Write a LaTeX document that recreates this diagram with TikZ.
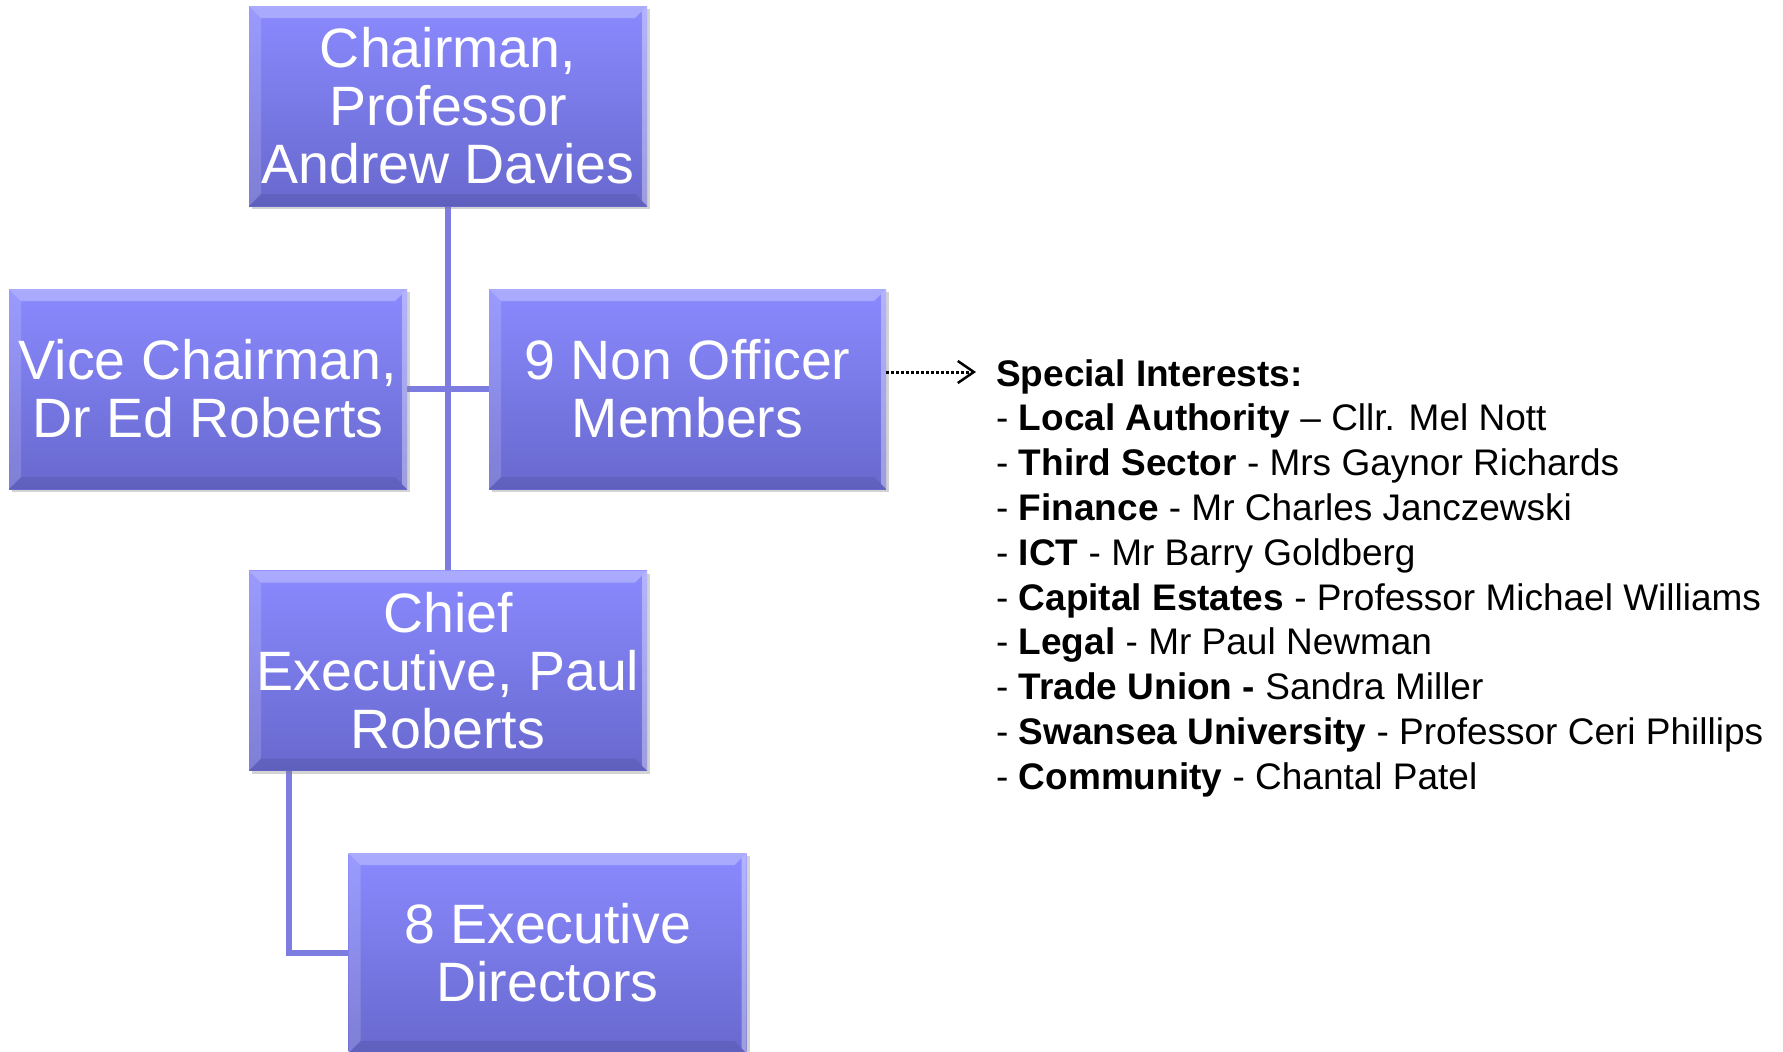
\documentclass[tikz,border=0pt]{standalone}
\usepackage{fontspec}
\setmainfont{Liberation Sans}
\usetikzlibrary{shadows,arrows.meta}
\definecolor{boxtop}{RGB}{138,138,255}
\definecolor{boxbot}{RGB}{104,104,206}
\definecolor{connc}{RGB}{125,125,225}
\tikzset{
  orgbox/.style={rectangle, minimum width=398pt, minimum height=200pt, inner sep=0pt,
    top color=boxtop, bottom color=boxbot, draw=none, text=white, align=center,
    font=\fontsize{55.5pt}{58pt}\selectfont,
    drop shadow={shadow xshift=3pt, shadow yshift=-3pt, opacity=0.35},
    path picture={
      \fill[white,opacity=0.28] (path picture bounding box.north west) -- (path picture bounding box.north east)
        -- ([xshift=-12pt,yshift=-12pt]path picture bounding box.north east) -- ([xshift=12pt,yshift=-12pt]path picture bounding box.north west) -- cycle;
      \fill[white,opacity=0.15] (path picture bounding box.north west) -- (path picture bounding box.south west)
        -- ([xshift=12pt,yshift=12pt]path picture bounding box.south west) -- ([xshift=12pt,yshift=-12pt]path picture bounding box.north west) -- cycle;
      \fill[black,opacity=0.08] (path picture bounding box.south west) -- (path picture bounding box.south east)
        -- ([xshift=-12pt,yshift=12pt]path picture bounding box.south east) -- ([xshift=12pt,yshift=12pt]path picture bounding box.south west) -- cycle;
      \fill[white,opacity=0.35] (path picture bounding box.north east) -- (path picture bounding box.south east)
        -- ([xshift=-5pt,yshift=5pt]path picture bounding box.south east) -- ([xshift=-5pt,yshift=-5pt]path picture bounding box.north east) -- cycle;
    }},
  conn/.style={draw=connc, line width=6pt},
  listtext/.style={anchor=base west, inner sep=0pt, font=\fontsize{37pt}{44.8pt}\selectfont, text=black}
}
\begin{document}
\begin{tikzpicture}[x=1pt,y=-1pt]
\useasboundingbox (0,0) rectangle (1783,1052);
% connectors (behind)
\coordinate (chs) at (448,207);
\coordinate (cen) at (448,571);
\draw[conn] (chs) -- (cen);
\draw[conn] (407,389) -- (489,389);
\draw[conn] (289,770) |- (348,953);
% boxes
\node[orgbox] (ch) at (448,106) {Chairman,\\Professor\\Andrew Davies};
\node[orgbox] (vc) at (208,389) {Vice Chairman,\\Dr Ed Roberts};
\node[orgbox, minimum width=397pt] (no) at (687.5,389) {9 Non Officer\\Members};
\node[orgbox] (ce) at (448,670.5) {Chief\\Executive, Paul\\Roberts};
\node[orgbox] (ed) at (547.5,953) {8 Executive\\Directors};
% dotted arrow
\coordinate (tip) at (976,372);
\draw[dash pattern=on 3pt off 2pt, line width=3pt, -{Straight Barb[length=16pt,width=22pt,line width=2.5pt]}] (no.east |- tip) -- (tip);
% list
\node[listtext] (l0) at (996,386) {\bfseries Special Interests:};
\node[listtext] (l1) at (996,430.8) {- \textbf{Local Authority} – Cllr. Mel Nott};
\node[listtext] (l2) at (996,475.6) {- \textbf{Third Sector} - Mrs Gaynor Richards};
\node[listtext] (l3) at (996,520.4) {- \textbf{Finance} - Mr Charles Janczewski};
\node[listtext] (l4) at (996,565.2) {- \textbf{ICT} - Mr Barry Goldberg};
\node[listtext] (l5) at (996,610) {- \textbf{Capital Estates} - Professor Michael Williams};
\node[listtext] (l6) at (996,654.8) {- \textbf{Legal} - Mr Paul Newman};
\node[listtext] (l7) at (996,699.6) {- \textbf{Trade Union -} Sandra Miller};
\node[listtext] (l8) at (996,744.4) {- \textbf{Swansea University} - Professor Ceri Phillips};
\node[listtext] (l9) at (996,789.2) {- \textbf{Community} - Chantal Patel};
\end{tikzpicture}
\end{document}
